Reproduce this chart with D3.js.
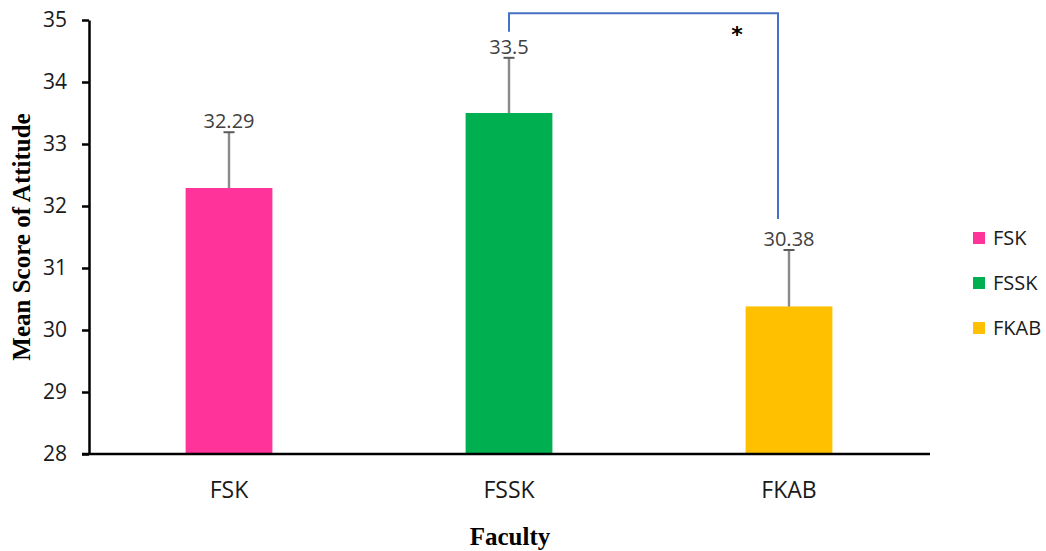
<!DOCTYPE html>
<html>
<head>
<meta charset="utf-8">
<script src="https://cdn.jsdelivr.net/npm/d3@7/dist/d3.min.js"></script>
<style>
  html, body { margin: 0; padding: 0; background: #fff; }
  svg { display: block; }
</style>
</head>
<body>
<svg id="chart" width="1046" height="551"></svg>
<script>
// Mean attitude score by faculty, with standard deviation
const categories = ["FSK", "FSSK", "FKAB"];
const means = [32.29, 33.5, 30.38];
const sds = [0.90, 0.89, 0.91];
const colors = ["#FF3399", "#00B050", "#FFC000"];
const yTicks = [28, 29, 30, 31, 32, 33, 34, 35];

// Significance bracket between FSSK and FKAB (data units)
const sigPair = ["FSSK", "FKAB"];
const sigTop = 35.11;
const sigEnds = [34.81, 31.79];
const sigLabel = "*";

const svg = d3.select("#chart");

const x = d3.scaleBand().domain(categories).range([89, 929]).padding(0);
const y = d3.scaleLinear().domain([28, 35]).range([454, 20]);
const barW = x.bandwidth() * 0.31;
const cx = c => x(c) + x.bandwidth() / 2;

// Bars
svg.append("g").selectAll("rect")
  .data(categories)
  .join("rect")
  .attr("x", c => cx(c) - barW / 2)
  .attr("width", barW)
  .attr("y", (c, i) => y(means[i]))
  .attr("height", (c, i) => y(28) - y(means[i]))
  .attr("fill", (c, i) => colors[i]);

// Error bars (upper only)
const eb = svg.append("g");
categories.forEach((c, i) => {
  eb.append("line")
    .attr("x1", cx(c)).attr("x2", cx(c))
    .attr("y1", y(means[i])).attr("y2", y(means[i] + sds[i]))
    .attr("stroke", "#9a9a9a").attr("stroke-width", 2.5);
  eb.append("line")
    .attr("x1", cx(c)).attr("x2", cx(c))
    .attr("y1", y(means[i])).attr("y2", y(means[i] + sds[i]))
    .attr("stroke", "#7a7a7a").attr("stroke-width", 1);
  eb.append("line")
    .attr("x1", cx(c) - 5.5).attr("x2", cx(c) + 5.5)
    .attr("y1", y(means[i] + sds[i])).attr("y2", y(means[i] + sds[i]))
    .attr("stroke", "#595959").attr("stroke-width", 2);
});

// Value labels
svg.append("g").selectAll("text")
  .data(categories)
  .join("text")
  .attr("x", c => cx(c))
  .attr("y", (c, i) => y(means[i] + sds[i]) - 4)
  .attr("text-anchor", "middle")
  .attr("font-family", "'Open Sans', sans-serif")
  .attr("font-size", 20)
  .attr("fill", "#404040")
  .text((c, i) => String(means[i]));

// Y axis
const yAxis = d3.axisLeft(y).tickValues(yTicks).tickSize(7).tickSizeOuter(0).tickFormat(d3.format("d"));
const gy = svg.append("g").attr("transform", "translate(89,0)").call(yAxis);
gy.select(".domain").attr("stroke", "#000").attr("stroke-width", 2.5);
gy.selectAll(".tick line").attr("stroke", "#000").attr("stroke-width", 2.5);
gy.selectAll(".tick text")
  .attr("x", -22)
  .attr("font-family", "'Open Sans', sans-serif")
  .attr("font-size", 21)
  .attr("fill", "#1a1a1a");

// X axis
const xAxis = d3.axisBottom(x).tickSize(0).tickSizeOuter(0);
const gx = svg.append("g").attr("transform", `translate(0,${y(28)})`).call(xAxis);
gx.select(".domain").attr("stroke", "#000").attr("stroke-width", 2.5)
  .attr("d", `M82,0H930`);
gx.selectAll(".tick text")
  .attr("y", 44)
  .attr("dy", 0)
  .attr("font-family", "'Open Sans', sans-serif")
  .attr("font-size", 23)
  .attr("fill", "#1a1a1a");

// Axis titles
svg.append("text")
  .attr("transform", `translate(30,${(y(28) + y(35)) / 2}) rotate(-90)`)
  .attr("text-anchor", "middle")
  .attr("font-family", "'Liberation Serif', 'Times New Roman', serif")
  .attr("font-weight", "bold")
  .attr("font-size", 25)
  .attr("fill", "#000")
  .text("Mean Score of Attitude");

svg.append("text")
  .attr("x", (89 + 929) / 2 + 1)
  .attr("y", 545)
  .attr("text-anchor", "middle")
  .attr("font-family", "'Liberation Serif', 'Times New Roman', serif")
  .attr("font-weight", "bold")
  .attr("font-size", 25)
  .attr("fill", "#000")
  .text("Faculty");

// Significance bracket
const bx1 = cx(sigPair[0]);
const bx2 = cx(sigPair[1]) - 11;
svg.append("path")
  .attr("d", `M${bx1},${y(sigEnds[0])}V${y(sigTop)}H${bx2}V${y(sigEnds[1])}`)
  .attr("fill", "none")
  .attr("stroke", "#4472C4")
  .attr("stroke-width", 2);
svg.append("text")
  .attr("x", bx2 - 41)
  .attr("y", 42)
  .attr("text-anchor", "middle")
  .attr("font-family", "'DejaVu Sans', sans-serif")
  .attr("font-weight", "bold")
  .attr("font-size", 22)
  .attr("fill", "#000")
  .text(sigLabel);

// Legend
const lg = svg.append("g").selectAll("g")
  .data(categories)
  .join("g")
  .attr("transform", (c, i) => `translate(973,${238 + i * 45})`);
lg.append("rect")
  .attr("x", 0).attr("y", -6).attr("width", 12).attr("height", 12)
  .attr("fill", (c, i) => colors[i]);
lg.append("text")
  .attr("x", 20).attr("y", 0).attr("dy", "0.36em")
  .attr("font-family", "'Open Sans', sans-serif")
  .attr("font-size", 20)
  .attr("fill", "#1a1a1a")
  .text(c => c);
</script>
</body>
</html>
